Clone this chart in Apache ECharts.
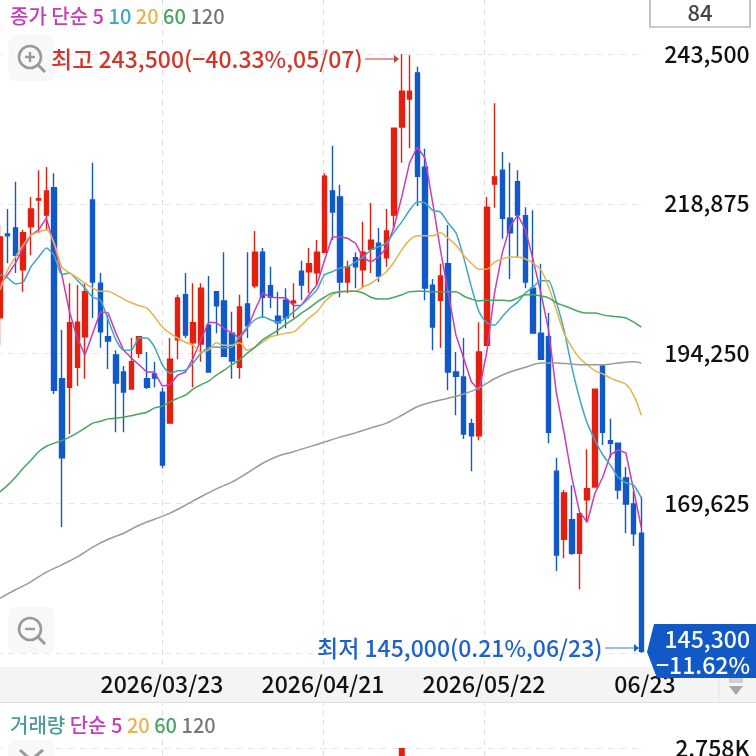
<!DOCTYPE html>
<html><head><meta charset="utf-8">
<style>html,body{margin:0;padding:0;background:#fff}#c{width:756px;height:756px}</style>
<script src="https://cdn.jsdelivr.net/npm/echarts@6/dist/echarts.min.js"></script>
</head><body><div id="c"></div>
<script>
const categories=['02/19','02/20','02/23','02/24','02/25','02/26','02/27','03/03','03/04','03/05','03/06','03/09','03/10','03/11','03/12','03/13','03/16','03/17','03/18','03/19','03/20','03/23','03/24','03/25','03/26','03/27','03/30','03/31','04/01','04/02','04/03','04/06','04/07','04/08','04/09','04/10','04/13','04/14','04/15','04/16','04/17','04/20','04/21','04/22','04/23','04/24','04/27','04/28','04/29','04/30','05/04','05/06','05/07','05/08','05/11','05/12','05/13','05/14','05/15','05/18','05/19','05/20','05/21','05/22','05/26','05/27','05/28','05/29','06/01','06/02','06/04','06/05','06/08','06/09','06/10','06/11','06/12','06/15','06/16','06/17','06/18','06/19','06/22','06/23'];
const opens=[200100,213900,214900,208000,215100,219500,217000,221500,190100,188700,192000,197000,219500,205800,197000,194000,191200,188400,194300,190100,190900,187900,182800,196500,203900,196000,195800,198900,204400,202900,197600,192000,202400,205400,210900,205400,200400,203000,202600,207800,207700,207500,210900,221000,220000,206000,210000,208000,211400,212400,210000,217000,231500,236100,240400,224900,205500,203000,209000,191200,190400,182700,180700,195600,222100,224400,216500,222500,216900,205000,197600,197000,174900,163700,166900,161400,170200,172300,192200,179900,179500,173800,169500,164700];
const closes=[213400,213600,210400,214100,218000,219700,221000,188200,177100,199300,199400,204400,206000,197800,196300,189400,187900,192900,197000,188700,190200,175900,193300,203400,197300,199300,205000,191200,202100,193800,193000,201900,198800,210900,203500,203500,199300,200100,202900,205500,209000,210900,223400,217500,206000,208500,208500,210900,212900,207000,214400,231300,237400,237400,223400,205000,198600,207000,191200,190500,181000,180700,194500,218300,223300,216500,214100,217000,206000,197600,193300,181300,161100,171300,161400,167900,172000,188400,181300,179500,171800,169500,164600,145300];
const lows=[195600,209100,207500,204400,210400,214100,214600,187600,165700,181000,188900,190100,200100,195200,191700,181300,181300,188400,193500,188400,188700,175400,182800,193300,196800,188700,192900,191200,197600,193700,190100,190100,196800,205000,200100,201700,197300,198400,200100,203000,204200,205500,210800,212900,203500,204200,205000,205000,207500,206000,208500,214600,225600,228000,218500,203000,194800,195200,188200,184100,180200,174900,180000,195600,218200,213100,206500,210000,205000,197600,193300,179500,158500,160600,161100,155500,166500,172300,179200,177100,170300,164700,162600,145000];
const highs=[215400,218000,222500,214600,220000,224400,224900,223900,198100,205800,205500,205800,225600,207500,200600,194800,192200,196800,197100,194500,192900,188600,196800,203900,207500,205800,205800,207000,204400,210900,201100,203900,210900,214400,211600,208500,204400,205000,205800,209500,211600,212900,223900,228400,222000,209500,210900,215900,219000,214900,218000,231300,243500,243300,241400,227900,206500,209000,215400,194500,196800,183500,199400,220000,235400,227400,225600,224400,218300,217800,209000,200900,177100,171800,172600,168000,178500,188400,192200,183500,179500,175600,171600,170700];
const ma5=[205500,207200,209100,211600,213700,214600,216500,212100,207200,201100,196800,194000,197600,201100,200900,197600,194800,193500,192400,191200,191200,188900,189100,190700,191200,193500,196500,199400,199300,198400,197600,196800,198400,201400,204200,203500,203400,203400,202100,202200,203900,205500,209600,213400,213400,213200,212400,210000,209300,210100,211600,215100,220000,225600,228200,226400,219000,211300,204200,197300,193500,189600,188200,194500,204200,210800,215100,217000,214600,209600,204200,198100,187800,181200,173900,168200,166500,171300,173900,177600,178400,177900,171800,165600];
const ma10=[207200,206700,205700,206000,208500,210100,211600,210400,207200,207500,206300,205000,203500,203000,199800,196500,194800,194800,196800,196800,195300,192400,191000,191400,191500,192700,194300,195200,195300,195200,195300,197000,198600,199800,200300,199800,199400,200100,201100,202200,203400,204700,207200,207700,208300,208500,209300,210100,211300,211800,212400,214200,215900,217800,219200,219000,217800,217500,215700,214100,210100,205200,201100,199300,198900,200300,201700,202700,204200,205200,206200,206200,202700,198100,192000,186900,182800,180000,177600,175900,173900,173000,172600,170500];
const ma20=[204700,208000,210100,212100,213700,214200,214600,212400,208500,207500,206700,205800,205000,204500,204500,203900,203200,202600,202100,201700,200300,198600,197600,196800,196100,195600,194500,194800,196000,195600,195600,196000,194800,195300,196100,197000,197300,197600,197800,198900,200100,201100,202700,203900,204400,204500,204500,205200,205800,206700,207700,209300,211300,212900,213600,213600,213600,214100,213200,212100,210400,209100,208100,208100,209300,209800,210100,210100,209800,209100,208000,205200,201400,197600,195300,193500,192400,191400,190900,190200,189700,189200,187400,184100];
const ma60=[171500,172600,173900,175400,176700,178100,179000,179500,179900,180500,181200,182000,182800,183100,183500,183600,183800,184000,184300,184600,185300,185600,186300,186900,187400,188400,189100,189700,190700,191500,192400,193200,194300,195300,196500,197300,198100,199100,199900,200900,201700,202700,203500,204200,204400,204500,204500,204200,203500,203200,203200,203500,203900,204400,204500,204500,204400,204400,204400,204400,203700,203200,202900,203000,203000,203000,202900,203400,203900,203900,203700,203400,202600,202100,201600,201100,200900,200900,200600,200400,200300,200100,199400,198600];
const ma120=[154000,null,155400,null,156700,null,158300,null,159500,null,160800,null,162400,null,163700,null,164700,null,166000,null,167000,null,168000,null,169300,null,170700,null,172000,null,173100,null,174600,null,176200,null,177400,null,178100,null,178900,null,179700,null,180500,null,181200,null,182000,null,182800,null,184100,null,185500,null,186300,null,186900,null,187600,null,188600,null,190100,null,191200,null,192000,null,192700,null,192700,null,192500,null,192400,null,192400,null,192700,null,192900,192700];
const volumeMax=2758;
const volumes=categories.map(d=>d==='05/07'?volumeMax:null);
const priceTicks=[145000,169625,194250,218875,243500];
const priceLabels=[169625,194250,218875,243500];
const dateLabels=['','2026/03/23','2026/04/21','2026/05/22','06/23'];

const FONT='"Noto Sans CJK KR","Noto Sans",sans-serif';
const RED='#e3200f',BLUE='#1259c8',MAG='#c93cb9',TEAL='#3da7c4',ORG='#e8b34c',GRN='#4aa461',GRY='#9a9a9a';
const lineS=(name,data,color,smooth)=>({name,type:'line',data,xAxisIndex:0,yAxisIndex:0,showSymbol:false,connectNulls:true,smooth,lineStyle:{color,width:1.5},itemStyle:{color},z:5,animation:false,silent:true});
function zoomIcon(cx,cy,plus){
  const kids=[{type:'rect',shape:{x:cx-22.5,y:cy-23,width:46,height:46,r:8},style:{fill:'#f8f8f8'},z:3},
   {type:'circle',shape:{cx:cx-1,cy:cy-1,r:11},style:{fill:'none',stroke:'#9a9a9a',lineWidth:2.6},z:4},
   {type:'line',shape:{x1:cx+7,y1:cy+7,x2:cx+14,y2:cy+14},style:{stroke:'#9a9a9a',lineWidth:3},z:4},
   {type:'line',shape:{x1:cx-6,y1:cy-1,x2:cx+4,y2:cy-1},style:{stroke:'#9a9a9a',lineWidth:2.4},z:4}];
  if(plus)kids.push({type:'line',shape:{x1:cx-1,y1:cy-6,x2:cx-1,y2:cy+4},style:{stroke:'#9a9a9a',lineWidth:2.4},z:4});
  return kids;
}
const chart=echarts.init(document.getElementById('c'),null,{renderer:'canvas'});
chart.setOption({
  animation:false,
  backgroundColor:'#fff',
  textStyle:{fontFamily:FONT},
  grid:[
    {left:-3.86,width:649.06,top:54,height:599,outerBoundsMode:'none'},
    {left:1,width:644,top:0,height:756,outerBoundsMode:'none'},
    {left:1,width:644,top:684,height:0,outerBoundsMode:'none'},
    {left:-3.86,width:649.06,top:748,height:90,outerBoundsMode:'none'}
  ],
  xAxis:[
    {type:'category',gridIndex:0,data:categories,axisLine:{show:false},axisTick:{show:false},axisLabel:{show:false},splitLine:{show:false}},
    {type:'value',gridIndex:1,min:0,max:4,interval:1,axisLine:{show:false},axisTick:{show:false},axisLabel:{show:false},z:0,
      splitLine:{show:true,showMinLine:false,showMaxLine:false,lineStyle:{type:[5,5],color:'#dcdcdc',width:1}}},
    {type:'value',gridIndex:2,min:0,max:4,interval:1,axisLine:{show:false},axisTick:{show:false},splitLine:{show:false},z:8,
      axisLabel:{show:true,margin:0,verticalAlign:'middle',color:'#111',fontSize:23,fontFamily:FONT,fontWeight:500,showMinLabel:false,showMaxLabel:true,hideOverlap:false,formatter:v=>dateLabels[v]||''}},
    {type:'category',gridIndex:3,data:categories,axisLine:{show:false},axisTick:{show:false},axisLabel:{show:false},splitLine:{show:false}}
  ],
  yAxis:[
    {type:'value',gridIndex:0,position:'right',min:145000,max:243500,axisLine:{show:false},
      axisTick:{show:false,customValues:priceTicks},
      splitLine:{show:true,lineStyle:{type:[6,6],color:'#e6e6e6',width:1}},
      axisLabel:{show:true,customValues:priceLabels,align:'right',margin:104.5,color:'#111',fontSize:23,fontFamily:FONT,fontWeight:500,hideOverlap:false,formatter:v=>Number(v).toLocaleString('en-US')}},
    {type:'value',gridIndex:1,min:0,max:1,axisLine:{show:false},axisTick:{show:false},axisLabel:{show:false},splitLine:{show:false}},
    {type:'value',gridIndex:2,min:0,max:1,axisLine:{show:false},axisTick:{show:false},axisLabel:{show:false},splitLine:{show:false}},
    {type:'value',gridIndex:3,position:'right',min:0,max:volumeMax,axisLine:{show:false},
      axisTick:{show:false,customValues:[volumeMax]},
      splitLine:{show:true,lineStyle:{type:[6,6],color:'#e6e6e6',width:1}},
      axisLabel:{show:true,customValues:[volumeMax],align:'right',margin:104.5,color:'#111',fontSize:23,fontFamily:FONT,fontWeight:500,formatter:v=>(v/1000).toFixed(3)+'K'}}
  ],
  series:[
    {name:'가격',type:'candlestick',xAxisIndex:0,yAxisIndex:0,barWidth:5,z:3,silent:true,
      data:categories.map((_,i)=>[opens[i],closes[i],lows[i],highs[i]]),
      itemStyle:{color:RED,color0:BLUE,borderColor:RED,borderColor0:BLUE,borderWidth:1.4}},
    lineS('5',ma5,MAG,false),lineS('10',ma10,TEAL,0.2),lineS('20',ma20,ORG,0.3),lineS('60',ma60,GRN,0.3),lineS('120',ma120,GRY,0.3),
    {name:'거래량',type:'bar',xAxisIndex:3,yAxisIndex:3,data:volumes,barWidth:6,itemStyle:{color:RED},silent:true,z:3},
    {type:'scatter',xAxisIndex:1,yAxisIndex:1,data:[],silent:true},
    {type:'scatter',xAxisIndex:2,yAxisIndex:2,data:[],silent:true}
  ],
  graphic:[
    {type:'rect',shape:{x:0,y:667,width:756,height:35},style:{fill:'#f4f4f4'},z:1},
    {type:'line',shape:{x1:0,y1:702.5,x2:756,y2:702.5},style:{stroke:'#dedede',lineWidth:1},z:1},
    {type:'line',shape:{x1:719,y1:667,x2:719,y2:702},style:{stroke:'#e2e2e2',lineWidth:1},z:1},
    {type:'rect',shape:{x:729,y:678,width:14,height:5},style:{fill:'#cfcfcf'},z:1},
    {type:'polygon',shape:{points:[[729,686],[743,686],[736,695]]},style:{fill:'#a8a8a8'},z:1},
    {type:'rect',shape:{x:650,y:-2,width:100,height:29},style:{fill:'#fff',stroke:'#9c9c9c',lineWidth:1.2},z:6},
    {type:'text',style:{x:700,y:13,text:'84',fill:'#444',font:'500 22px '+FONT,align:'center',verticalAlign:'middle'},z:7},
    {type:'text',style:{x:10,y:16,rich:{m:{fill:MAG,font:'500 20px '+FONT},t:{fill:TEAL,font:'500 20px '+FONT},o:{fill:ORG,font:'500 20px '+FONT},g:{fill:GRN,font:'500 20px '+FONT},y:{fill:'#777',font:'500 20px '+FONT}},text:'{m|종가 단순 5 }{t|10 }{o|20 }{g|60 }{y|120}',verticalAlign:'middle'},z:7},
    {type:'text',style:{x:10,y:725,rich:{a:{fill:'#4d9a9c',font:'500 20px '+FONT},m:{fill:MAG,font:'500 20px '+FONT},o:{fill:ORG,font:'500 20px '+FONT},g:{fill:GRN,font:'500 20px '+FONT},y:{fill:'#777',font:'500 20px '+FONT}},text:'{a|거래량 }{m|단순 5 }{o|20 }{g|60 }{y|120}',verticalAlign:'middle'},z:7},
    {type:'text',style:{x:51,y:59,text:'최고 243,500(−40.33%,05/07)',fill:'#d4352a',font:'500 23px '+FONT,verticalAlign:'middle'},z:7},
    {type:'line',shape:{x1:365,y1:59,x2:396,y2:59},style:{stroke:'#c4594d',lineWidth:1.2},z:7},
    {type:'polygon',shape:{points:[[394,55],[399,59],[394,63]]},style:{fill:'#c4473a'},z:7},
    {type:'text',style:{x:317,y:648,text:'최저 145,000(0.21%,06/23)',fill:'#1f62c9',font:'500 23px '+FONT,verticalAlign:'middle'},z:7},
    {type:'line',shape:{x1:605,y1:648,x2:636,y2:648},style:{stroke:'#5d8fd6',lineWidth:1.2},z:7},
    {type:'polygon',shape:{points:[[634,644],[639,648],[634,652]]},style:{fill:'#1f62c9'},z:7},
    {type:'polygon',shape:{points:[[654,624],[756,624],[756,678],[657,678],[647,652]]},style:{fill:'#1259c8'},z:9},
    {type:'text',style:{x:750,y:639,text:'145,300',fill:'#fff',font:'500 23px '+FONT,align:'right',verticalAlign:'middle'},z:10},
    {type:'text',style:{x:750,y:665,text:'−11.62%',fill:'#fff',font:'500 23px '+FONT,align:'right',verticalAlign:'middle'},z:10},
    {type:'group',children:zoomIcon(31,58,true)},
    {type:'group',children:zoomIcon(31,630,false)},
    {type:'rect',shape:{x:8.5,y:740,width:46,height:46,r:8},style:{fill:'#f8f8f8'},z:3},
    {type:'polyline',shape:{points:[[20,750],[31,760],[43,750]]},style:{stroke:'#9a9a9a',lineWidth:3,fill:'none'},z:4}
  ]
});
</script></body></html>
